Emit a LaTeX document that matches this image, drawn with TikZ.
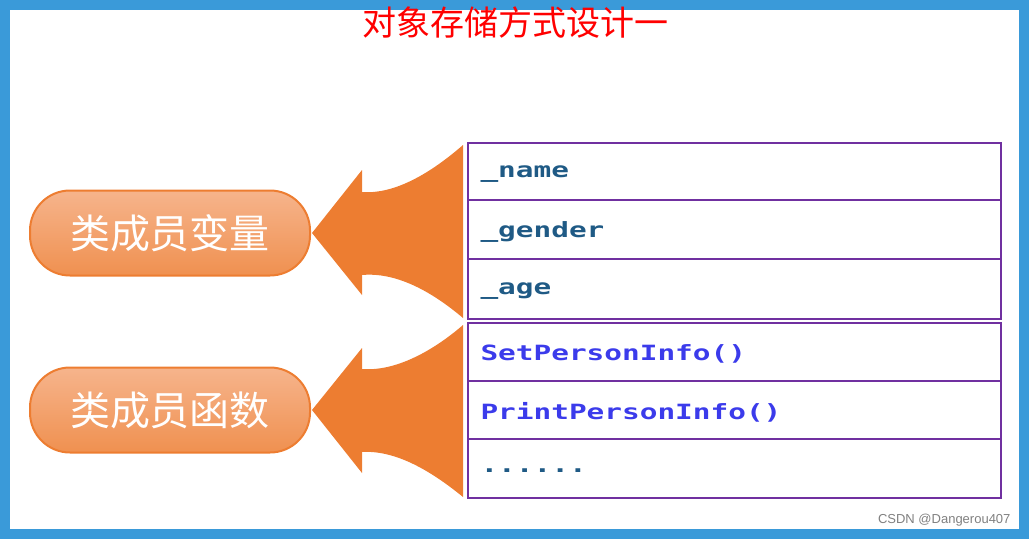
\documentclass[tikz,border=0pt]{standalone}
\usepackage{fontspec}
\newfontfamily\cjk{Noto Sans CJK SC}
\newfontfamily\mono{DejaVu Sans Mono}
\definecolor{frameblue}{HTML}{3A9AD9}
\definecolor{orng}{HTML}{ED7D31}
\definecolor{pilltop}{HTML}{F6B48C}
\definecolor{purp}{HTML}{7030A0}
\definecolor{teal}{HTML}{1F5A85}
\definecolor{fblue}{HTML}{3B3BEB}
\newcommand{\wide}[1]{\scalebox{1.4}[1]{#1}}
\begin{document}
\begin{tikzpicture}[x=1pt,y=-1pt,
  cell/.style={draw=purp,line width=2.2pt,minimum width=533pt,anchor=north west,inner sep=0pt},
  pill/.style={rounded corners=40pt,draw=orng,line width=2pt,top color=pilltop,bottom color=orng!85,minimum width=280pt,minimum height=85pt,text=white,font=\cjk\fontsize{40}{40}\selectfont},
  lbl/.style={font=\mono\bfseries\fontsize{21}{21}\selectfont,anchor=west},
  arr/.style={fill=orng}]
\useasboundingbox (0,0) rectangle (1029,539);
\draw[frameblue,line width=10pt] (5,5) rectangle (1024,534);
\node[text=red,font=\cjk\fontsize{34}{34}\selectfont] (title) at (515,23) {对象存储方式设计一};
% cells
\node[cell,minimum height=57pt] (c1) at (467,142) {};
\node[cell,minimum height=59pt] (c2) at (467,199) {};
\node[cell,minimum height=60pt] (c3) at (467,258) {};
\node[cell,minimum height=58pt] (c4) at (467,322) {};
\node[cell,minimum height=58pt] (c5) at (467,380) {};
\node[cell,minimum height=59pt] (c6) at (467,438) {};
\node[lbl,text=teal] at ([xshift=10pt,yshift=-2pt]c1.west) {\wide{\_name}};
\node[lbl,text=teal] at ([xshift=10pt,yshift=-2pt]c2.west) {\wide{\_gender}};
\node[lbl,text=teal] at ([xshift=10pt,yshift=-2pt]c3.west) {\wide{\_age}};
\node[lbl,text=fblue] at ([xshift=10pt,yshift=-2pt]c4.west) {\wide{SetPersonInfo()}};
\node[lbl,text=fblue] at ([xshift=10pt,yshift=-2pt]c5.west) {\wide{PrintPersonInfo()}};
\node[lbl,text=teal] at ([xshift=10pt,yshift=-2pt]c6.west) {\wide{......}};
% arrows
\fill[arr] (312,233) -- (362,170) -- (362,192) .. controls (400,195) and (440,165) .. (463,145)
  -- (463,318) .. controls (430,290) and (395,272) .. (362,275) -- (362,295) -- cycle;
\fill[arr] (312,410) -- (362,348) -- (362,369) .. controls (400,372) and (440,345) .. (463,325)
  -- (463,497) .. controls (430,470) and (395,450) .. (362,452) -- (362,473) -- cycle;
% pills
\node[pill] (p1) at (170,233) {类成员变量};
\node[pill] (p2) at (170,410) {类成员函数};
\node[text=gray,font=\fontspec{Liberation Sans}\fontsize{13}{13}\selectfont,anchor=east] (wm) at (1014,520) {CSDN @Dangerou407};
\end{tikzpicture}
\end{document}
